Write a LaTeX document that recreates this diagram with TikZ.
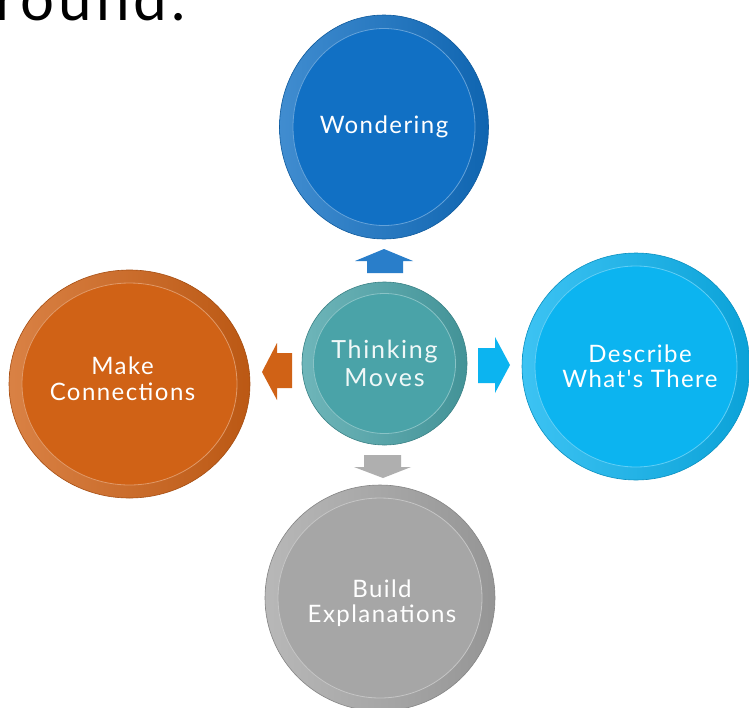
\documentclass[tikz,border=0pt]{standalone}
\usepackage{fontspec}
\setmainfont{Lato}
\newfontfamily\lbfont{Lato}[LetterSpace=6]
\newfontfamily\thfont{Lato}[LetterSpace=7]
\newfontfamily\capfont{Lato}[LetterSpace=7]
\usetikzlibrary{shapes.geometric,calc}
\definecolor{cWond}{RGB}{17,112,196}
\definecolor{cThink}{RGB}{74,163,168}
\definecolor{cConn}{RGB}{208,98,22}
\definecolor{cDesc}{RGB}{12,180,240}
\definecolor{cBuild}{RGB}{166,166,166}
\tikzset{
  disc/.style={ellipse, inner sep=0pt, draw=#1!80!black, line width=0.6pt,
    left color=#1!80!white, right color=#1!90!black},
  plate/.style={ellipse, inner sep=0pt, fill=#1, draw=#1!65!white, line width=0.8pt},
  lbl/.style={text=white, align=center, font=\lbfont\fontsize{24}{25.5}\selectfont},
}
\begin{document}
\begin{tikzpicture}[x=1pt,y=-1pt]
\clip (0,0) rectangle (749,707);
\fill[white] (0,0) rectangle (749,707);
% partial caption at top
\node[anchor=base east, inner sep=0pt, font=\capfont\fontsize{60}{60}\selectfont] (cap) at (186,20) {around.};
% discs
\node[disc=cWond, minimum width=209pt, minimum height=224pt] (wond) at (384,127) {};
\node[plate=cWond, minimum width=182pt, minimum height=197pt] (wondp) at (wond.center) {};
\node[lbl] (wondt) at (wond.center) {Wondering};

\node[disc=cThink, minimum width=165pt, minimum height=163pt] (think) at (384.5,363.5) {};
\node[plate=cThink, minimum width=142pt, minimum height=140pt] (thinkp) at (think.center) {};
\node[lbl, text=white!92!cThink, font=\thfont\fontsize{25}{28}\selectfont] (thinkt) at (think.center) {Thinking\\Moves};

\node[disc=cConn, minimum width=241pt, minimum height=228pt] (conn) at (129.5,384) {};
\node[plate=cConn, minimum width=215pt, minimum height=202pt] (connp) at (conn.center) {};
\node[lbl] (connt) at ($(conn.center)+(-7,-5)$) {Make\\Connections};

\node[disc=cDesc, minimum width=228pt, minimum height=227pt] (desc) at (636,366.5) {};
\node[plate=cDesc, minimum width=202pt, minimum height=201pt] (descp) at (desc.center) {};
\node[lbl] (desct) at ($(desc.center)+(4,0)$) {Describe\\What's There};

\node[disc=cBuild, minimum width=230pt, minimum height=226pt] (build) at (380,598) {};
\node[plate=cBuild, minimum width=204pt, minimum height=200pt] (buildp) at (build.center) {};
\node[lbl] (buildt) at ($(build.center)+(2,5)$) {Build\\Explanations};

% block arrows
\fill[cWond!90!white] (384,249) -- (413,261) -- (403,261) -- (403,273) -- (367,273) -- (367,261) -- (355,261) -- cycle;
\fill[cConn] (262,372) -- (277,343) -- (277,353) -- (292,353) -- (292,388) -- (277,388) -- (277,400) -- cycle;
\fill[cDesc] (510,365) -- (495,337) -- (495,348) -- (478,348) -- (478,383) -- (495,383) -- (495,393) -- cycle;
\fill[cBuild!90!white] (383,478) -- (411,467) -- (401,467) -- (401,455) -- (364,455) -- (364,467) -- (354,467) -- cycle;
\end{tikzpicture}
\end{document}
